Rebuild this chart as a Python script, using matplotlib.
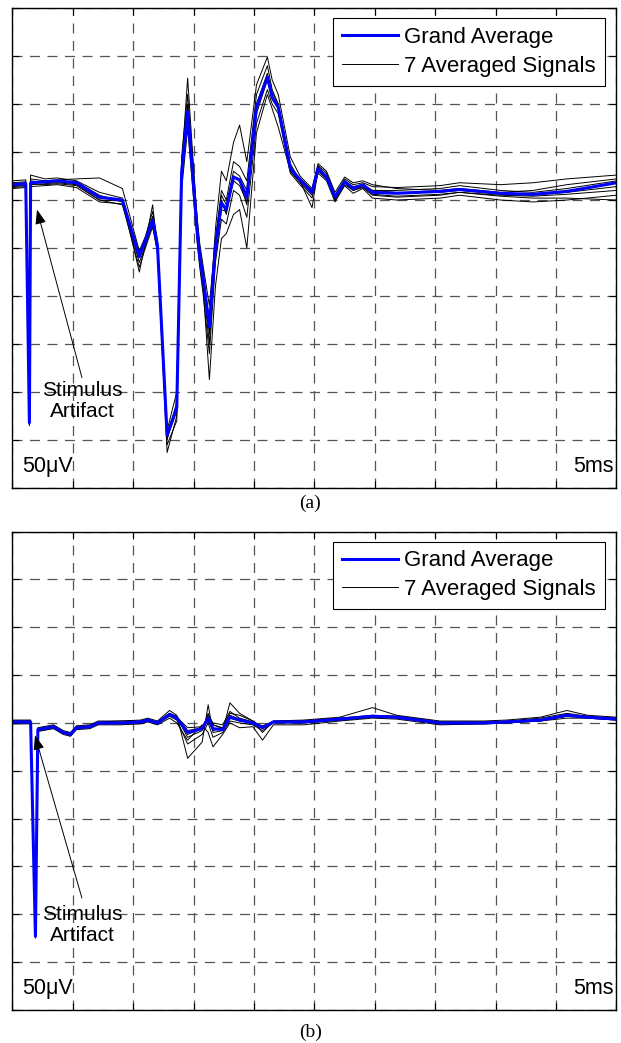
""" grand average vs 7 averaged signals, two recordings """
import numpy as np
from matplotlib import pyplot as plt
from matplotlib.lines import Line2D

# ---- panel (a) data: time in ms, amplitude in uV ----
t_a = [0.00, 0.11, 0.14, 0.15, 0.27, 0.37, 0.53, 0.72, 0.91, 1.05, 1.10, 1.16, 1.20, 1.28, 1.36, 1.40,
       1.45, 1.53, 1.55, 1.58, 1.63, 1.68, 1.73, 1.77, 1.83, 1.88, 1.94, 2.02, 2.11, 2.15, 2.20, 2.30,
       2.38, 2.48, 2.53, 2.60, 2.67, 2.75, 2.82, 2.90, 2.98, 3.18, 3.54, 3.70, 4.04, 4.31, 4.59, 5.00]
grand_a = [66, 67, -182, 68, 69, 70, 68, 53, 50, -9, 8, 29, 3, -195, -166, 78,
           142, 16, -9, -33, -82, 1, 47, 40, 74, 71, 53, 147, 178, 157, 147, 83,
           71, 58, 83, 74, 53, 69, 62, 66, 58, 57, 59, 61, 57, 56, 59, 68]
signals_a = [
    [70, 71, -178, 76, 72, 73, 70, 58, 52, -5, 10, 33, 5, -190, -150, 95,
     160, 30, 5, -20, -60, 10, 60, 50, 90, 85, 70, 160, 190, 165, 150, 85,
     72, 60, 86, 78, 55, 72, 66, 68, 64, 63, 65, 68, 66, 68, 72, 76],
    [62, 63, -185, 64, 65, 66, 63, 48, 46, -15, 2, 25, -2, -205, -180, 60,
     125, 5, -20, -50, -110, -15, 30, 25, 60, 55, 32, 130, 165, 150, 140, 78,
     66, 52, 78, 70, 48, 65, 57, 62, 52, 50, 52, 55, 50, 48, 50, 55],
    [68, 69, -180, 72, 70, 71, 72, 73, 62, -3, 12, 38, 8, -198, -170, 85,
     177, 25, 0, -30, -75, 20, 80, 70, 110, 128, 90, 170, 199, 175, 160, 95,
     75, 62, 88, 80, 58, 74, 68, 70, 66, 62, 60, 62, 58, 60, 66, 72],
    [64, 65, -183, 66, 67, 68, 66, 50, 45, -20, 0, 22, -5, -213, -175, 70,
     135, 10, -15, -45, -137, -40, 10, 15, 35, 40, 0, 120, 160, 145, 126, 80,
     68, 55, 80, 72, 50, 66, 60, 63, 55, 53, 55, 58, 54, 52, 52, 50],
    [67, 68, -181, 70, 68, 69, 67, 52, 50, -25, 5, 45, 0, -200, -160, 80,
     145, 20, -5, -25, -90, -5, 50, 35, 75, 70, 45, 150, 182, 162, 150, 88,
     70, 42, 82, 76, 52, 70, 62, 66, 60, 58, 58, 60, 56, 55, 58, 64],
    [65, 66, -184, 68, 70, 70, 69, 55, 48, -10, 8, 30, 2, -192, -165, 75,
     150, 18, -12, -40, -100, 5, 55, 45, 80, 75, 60, 140, 175, 158, 145, 82,
     73, 60, 85, 75, 55, 70, 64, 66, 60, 60, 62, 65, 60, 58, 62, 70],
    [63, 64, -182, 67, 66, 67, 65, 50, 49, -8, 10, 30, 4, -195, -168, 72,
     140, 12, -8, -35, -85, -10, 40, 38, 70, 65, 48, 145, 176, 155, 145, 80,
     70, 57, 82, 72, 50, 68, 60, 64, 56, 54, 56, 58, 55, 54, 56, 60],
]

# ---- panel (b) data ----
t_b = [0.00, 0.15, 0.19, 0.21, 0.34, 0.42, 0.48, 0.53, 0.64, 0.71, 0.89, 1.06, 1.12, 1.20, 1.30, 1.36,
       1.45, 1.57, 1.62, 1.66, 1.74, 1.80, 1.88, 1.99, 2.07, 2.16, 2.41, 2.71, 2.98, 3.18, 3.54, 3.90,
       4.09, 4.37, 4.59, 4.76, 5.00]
grand_b = [51, 51, -173, 43, 46, 40, 38, 45, 46, 50, 50, 51, 53, 50, 59, 55,
           40, 44, 55, 44, 43, 56, 53, 50, 45, 51, 51, 54, 57, 56, 50, 50,
           51, 53, 58, 56, 54]
signals_b = [
    [53, 53, -170, 45, 48, 42, 40, 47, 48, 52, 52, 53, 55, 52, 63, 58,
     13, 30, 69, 40, 42, 71, 60, 52, 40, 52, 53, 56, 66, 58, 52, 52,
     53, 56, 63, 58, 56],
    [49, 49, -175, 41, 44, 38, 36, 43, 44, 48, 48, 49, 51, 48, 55, 50,
     32, 48, 40, 25, 38, 50, 45, 46, 32, 48, 48, 52, 55, 54, 48, 49,
     50, 52, 55, 55, 53],
    [52, 52, -172, 44, 47, 41, 39, 46, 47, 51, 52, 52, 54, 51, 60, 56,
     35, 42, 60, 48, 45, 60, 58, 52, 46, 52, 52, 55, 58, 57, 51, 51,
     52, 55, 60, 57, 55],
    [50, 50, -174, 42, 45, 39, 37, 44, 45, 49, 49, 50, 52, 49, 57, 53,
     28, 38, 50, 35, 40, 52, 50, 48, 42, 50, 50, 53, 56, 55, 49, 49,
     50, 52, 57, 55, 53],
    [51, 51, -173, 43, 46, 40, 38, 45, 46, 50, 50, 51, 53, 50, 60, 57,
     42, 45, 58, 50, 48, 62, 55, 51, 45, 51, 51, 54, 57, 56, 50, 50,
     51, 53, 59, 56, 54],
    [50, 50, -173, 42, 46, 40, 37, 45, 46, 50, 50, 51, 53, 50, 58, 55,
     38, 44, 52, 42, 45, 55, 52, 50, 44, 51, 50, 53, 56, 56, 50, 50,
     51, 53, 57, 56, 54],
    [52, 52, -172, 44, 46, 40, 38, 45, 46, 50, 50, 51, 53, 50, 59, 56,
     45, 46, 56, 48, 44, 58, 54, 50, 47, 51, 52, 55, 57, 57, 51, 51,
     51, 53, 58, 57, 54],
]

# arrow tip / tail and label centre for the stimulus artifact (ms, uV)
artifact_a = {"tip": (0.203, 40), "tail": (0.575, -135), "label": (0.575, -159)}
artifact_b = {"tip": (0.186, 37), "tail": (0.575, -133), "label": (0.575, -161)}

plt.rcParams["font.family"] = ["Liberation Sans", "DejaVu Sans"]


def draw_panel(ax, t, grand, signals, artifact):
    for sig in signals:
        ax.plot(t, sig, color="k", lw=0.7)
    ax.plot(t, grand, color="#0000ff", lw=2.2)
    ax.set_xlim(0, 5)
    ax.set_ylim(-250, 250)
    ax.set_xticks(np.arange(0, 5.01, 0.5))
    ax.set_yticks(np.arange(-250, 251, 50))
    ax.tick_params(direction="in", length=5, width=0.8, top=True, right=True,
                   labelbottom=False, labelleft=False)
    ax.grid(True, color="#555555", lw=0.9, linestyle=(0, (8, 6)))
    for sp in ax.spines.values():
        sp.set_linewidth(1.0)
    # legend
    handles = [Line2D([], [], color="#0000ff", lw=2.2),
               Line2D([], [], color="k", lw=0.7)]
    leg = ax.legend(handles, ["Grand Average", "7 Averaged Signals"], loc="upper right",
                    bbox_to_anchor=(0.981, 0.979), borderaxespad=0, fontsize=16,
                    fancybox=False, framealpha=1, borderpad=0.4, labelspacing=0.35,
                    handlelength=2.5, handletextpad=0.3)
    leg.get_frame().set_edgecolor("k")
    leg.get_frame().set_linewidth(0.8)
    # stimulus artifact annotation
    ax.annotate("", xy=artifact["tip"], xytext=artifact["tail"],
                arrowprops=dict(arrowstyle="-|>,head_length=0.8,head_width=0.3",
                                color="k", lw=0.7, mutation_scale=11, shrinkA=0, shrinkB=0))
    ax.text(artifact["label"][0], artifact["label"][1], "Stimulus\nArtifact",
            ha="center", va="center", fontsize=15, linespacing=1.15)
    # scale labels
    ax.text(0.016, 0.045, "50μV", transform=ax.transAxes, ha="left", va="center", fontsize=15.5)
    ax.text(0.996, 0.045, "5ms", transform=ax.transAxes, ha="right", va="center", fontsize=15.5)


fig = plt.figure(figsize=(6.21, 10.43), dpi=100)
ax_a = fig.add_axes([0.0201, 0.5321, 0.9726, 0.4602])
ax_b = fig.add_axes([0.0201, 0.0316, 0.9726, 0.4588])
draw_panel(ax_a, t_a, grand_a, signals_a, artifact_a)
draw_panel(ax_b, t_b, grand_b, signals_b, artifact_b)

fig.text(0.5, 1 - 503 / 1043, "(a)", ha="center", va="center", fontsize=14, family="Liberation Serif")
fig.text(0.5, 1 - 1032 / 1043, "(b)", ha="center", va="center", fontsize=14, family="Liberation Serif")

plt.savefig("out.png", dpi=100)
